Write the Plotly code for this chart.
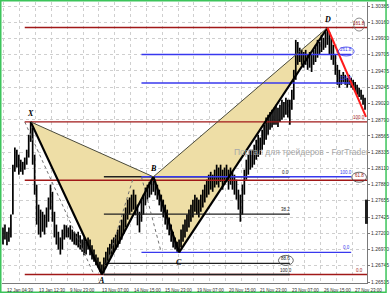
import plotly.graph_objects as go

# ---------------- data ----------------
bar_high = [
    1.2728, 1.2732, 1.2722, 1.2728, 1.2746, 1.2816, 1.2840, 1.2837, 1.2830, 1.2823,
    1.2820, 1.2826, 1.2837, 1.2858, 1.2876, 1.2868, 1.2830, 1.2788, 1.2760, 1.2753,
    1.2750, 1.2746, 1.2756, 1.2770, 1.2788, 1.2778, 1.2750, 1.2732, 1.2722, 1.2714,
    1.2725, 1.2732, 1.2731, 1.2728, 1.2731, 1.2725, 1.2722, 1.2719, 1.2722, 1.2717,
    1.2711, 1.2714, 1.2708, 1.2714, 1.2711, 1.2703, 1.2697, 1.2690, 1.2686, 1.2680,
    1.2676, 1.2686, 1.2694, 1.2700, 1.2705, 1.2711, 1.2714, 1.2718, 1.2725, 1.2731,
    1.2739, 1.2747, 1.2756, 1.2767, 1.2770, 1.2774, 1.2781, 1.2774, 1.2760, 1.2750,
    1.2767, 1.2774, 1.2784, 1.2788, 1.2792, 1.2795, 1.2799, 1.2795, 1.2788, 1.2781,
    1.2774, 1.2767, 1.2760, 1.2753, 1.2742, 1.2732, 1.2722, 1.2714, 1.2708, 1.2711,
    1.2725, 1.2732, 1.2739, 1.2746, 1.2753, 1.2760, 1.2767, 1.2774, 1.2770, 1.2767,
    1.2774, 1.2781, 1.2788, 1.2795, 1.2802, 1.2806, 1.2802, 1.2809, 1.2816, 1.2812,
    1.2816, 1.2809, 1.2812, 1.2816, 1.2809, 1.2812, 1.2806, 1.2802, 1.2795, 1.2781,
    1.2774, 1.2788, 1.2809, 1.2823, 1.2830, 1.2837, 1.2837, 1.2844, 1.2851, 1.2858,
    1.2854, 1.2865, 1.2872, 1.2882, 1.2886, 1.2890, 1.2893, 1.2896, 1.2900, 1.2896,
    1.2900, 1.2907, 1.2904, 1.2910, 1.2907, 1.2907, 1.2921, 1.2949, 1.2991, 1.2988,
    1.2980, 1.2977, 1.2974, 1.2977, 1.2970, 1.2974, 1.2970, 1.2977, 1.2984, 1.2991,
    1.2988, 1.2998, 1.2994, 1.3002, 1.3008, 1.3002, 1.2994, 1.2984, 1.2970, 1.2956,
    1.2949, 1.2942, 1.2946, 1.2942, 1.2938, 1.2942, 1.2938, 1.2935, 1.2932, 1.2928,
    1.2924, 1.2921, 1.2914, 1.2910,
]
bar_low = [
    1.2704, 1.2711, 1.2703, 1.2708, 1.2714, 1.2746, 1.2806, 1.2812, 1.2802, 1.2806,
    1.2802, 1.2809, 1.2816, 1.2826, 1.2848, 1.2816, 1.2774, 1.2732, 1.2718, 1.2714,
    1.2722, 1.2718, 1.2728, 1.2736, 1.2753, 1.2736, 1.2714, 1.2704, 1.2697, 1.2690,
    1.2697, 1.2711, 1.2714, 1.2714, 1.2711, 1.2708, 1.2704, 1.2703, 1.2700, 1.2697,
    1.2694, 1.2689, 1.2690, 1.2697, 1.2689, 1.2683, 1.2680, 1.2675, 1.2672, 1.2666,
    1.2662, 1.2666, 1.2675, 1.2680, 1.2686, 1.2690, 1.2694, 1.2697, 1.2700, 1.2705,
    1.2711, 1.2719, 1.2728, 1.2739, 1.2746, 1.2750, 1.2753, 1.2745, 1.2731, 1.2721,
    1.2736, 1.2746, 1.2759, 1.2767, 1.2770, 1.2774, 1.2778, 1.2773, 1.2767, 1.2759,
    1.2750, 1.2742, 1.2732, 1.2725, 1.2717, 1.2708, 1.2700, 1.2697, 1.2694, 1.2693,
    1.2700, 1.2708, 1.2714, 1.2722, 1.2728, 1.2736, 1.2742, 1.2750, 1.2746, 1.2742,
    1.2750, 1.2756, 1.2763, 1.2770, 1.2774, 1.2781, 1.2778, 1.2784, 1.2788, 1.2784,
    1.2792, 1.2781, 1.2788, 1.2792, 1.2781, 1.2788, 1.2781, 1.2774, 1.2767, 1.2753,
    1.2736, 1.2746, 1.2774, 1.2795, 1.2802, 1.2809, 1.2812, 1.2816, 1.2823, 1.2827,
    1.2830, 1.2837, 1.2844, 1.2851, 1.2858, 1.2865, 1.2868, 1.2872, 1.2872, 1.2869,
    1.2876, 1.2879, 1.2882, 1.2886, 1.2882, 1.2872, 1.2893, 1.2907, 1.2935, 1.2956,
    1.2960, 1.2956, 1.2952, 1.2956, 1.2949, 1.2952, 1.2946, 1.2956, 1.2960, 1.2966,
    1.2970, 1.2974, 1.2977, 1.2980, 1.2984, 1.2970, 1.2963, 1.2956, 1.2942, 1.2928,
    1.2924, 1.2928, 1.2932, 1.2928, 1.2924, 1.2928, 1.2924, 1.2921, 1.2918, 1.2914,
    1.2911, 1.2907, 1.2900, 1.2893,
]

y_tick_values = [1.30385, 1.30160, 1.29930, 1.29705, 1.29475, 1.29245, 1.29020, 1.28790,
                 1.28565, 1.28335, 1.28110, 1.27880, 1.27655, 1.27425, 1.27200, 1.26970,
                 1.26745, 1.26515]
y_tick_labels = ["1.30385", "1.30160", "1.29930", "1.29705", "1.29475", "1.29245", "1.29020",
                 "1.28790", "1.28565", "1.28335", "1.28110", "1.27880", "1.27655", "1.27425",
                 "1.27200", "1.26970", "1.26745", "1.26515"]

x_tick_labels = ["12 Jan 04:30", "13 Jan 12:30", "9 Nov 23:00", "13 Nov 07:00", "14 Nov 15:00",
                 "15 Nov 23:00", "19 Nov 07:00", "20 Nov 15:00", "21 Nov 23:00", "23 Nov 07:00",
                 "26 Nov 15:00", "27 Nov 23:00"]
x_tick_bars = [0.5, 16.5, 32.5, 48.5, 64.5, 80.5, 96.5, 112.5, 128.5, 144.5, 160.5, 176.5]
x_grid_bars = [0.5 + 8 * k for k in range(23)]

pattern_names = ["X", "A", "B", "C", "D"]
pattern_bars = [14, 50, 76, 89, 164]
pattern_prices = [1.2876, 1.2662, 1.2799, 1.2693, 1.3008]
projection_bar = 183.5
projection_price = 1.2883

red_levels = [0.0, 61.8, 100.0, 161.8]
black_levels = [0.0, 38.2, 88.6, 100.0]
blue_levels = [0.0, 100.0, 224.0, 261.8]

watermark = "Портал для трейдеров - ForTrader"

# ---------------- layout constants ----------------
W, H = 391, 293
ML, MR, MT, MB = 2, 20, 2, 10
PW, PH = W - ML - MR, H - MT - MB
x_range = [-0.5, 184.0]
y_range = [1.265012, 1.304411]
px_price = (y_range[1] - y_range[0]) / PH
px_bar = (x_range[1] - x_range[0]) / PW

fig = go.Figure()

X, A, B, C, D = [(pattern_bars[k], pattern_prices[k]) for k in range(5)]
fill_col = "rgb(238,222,166)"

# filled triangles
for tri in [(X, A, B), (B, C, D)]:
    fig.add_trace(go.Scatter(x=[p[0] for p in tri] + [tri[0][0]],
                             y=[p[1] for p in tri] + [tri[0][1]],
                             mode="lines", fill="toself", fillcolor=fill_col,
                             line=dict(width=0, color=fill_col), hoverinfo="skip"))

# price bars
bx, by = [], []
for i, (h, l) in enumerate(zip(bar_high, bar_low)):
    bx += [i, i, None]
    by += [l, h, None]
fig.add_trace(go.Scatter(x=bx, y=by, mode="lines", line=dict(color="#000000", width=1.7),
                         hoverinfo="skip"))

# fibonacci objects
fibs = [
    dict(levels=red_levels, p0=A[1], p100=X[1], start=11, end=184, lab=180.0,
         color="#a01818", dot=((11, X[1]), (46, A[1]))),
    dict(levels=black_levels, p0=B[1], p100=A[1], start=51, end=145, lab=143.0,
         color="#202020", dot=((51, A[1]), (66, B[1]))),
    dict(levels=blue_levels, p0=C[1], p100=B[1], start=70, end=176, lab=173.5,
         color="#3838ee", dot=((70, B[1]), (80, C[1]))),
]
circled = {("#a01818", 161.8): (11, 13, "#707070"), ("#3838ee", 261.8): (16, 9, "#3838ee"),
           ("#a01818", 61.8): (15, 10, "#404040"), ("#202020", 88.6): (15, 10, "#404040")}
annotations = []
shapes = []
for f in fibs:
    (dx0, dy0), (dx1, dy1) = f["dot"]
    fig.add_trace(go.Scatter(x=[dx0, dx1], y=[dy0, dy1], mode="lines",
                             line=dict(color="#707070", width=1, dash="dot"), hoverinfo="skip"))
    for lv in f["levels"]:
        price = f["p0"] + lv / 100.0 * (f["p100"] - f["p0"])
        fig.add_trace(go.Scatter(x=[f["start"], f["end"]], y=[price, price], mode="lines",
                                 line=dict(color=f["color"], width=1.4), hoverinfo="skip"))
        annotations.append(dict(x=f["lab"], y=price, text=f"{lv:.1f}", showarrow=False,
                                xanchor="center", yanchor="bottom", yshift=0,
                                font=dict(size=4.5, color=f["color"], family="Liberation Sans")))
        key = (f["color"], lv)
        if key in circled:
            w, h, c = circled[key]
            cy = price + 3 * px_price
            shapes.append(dict(type="circle", xref="x", yref="y",
                               x0=f["lab"] - w / 2 * px_bar, x1=f["lab"] + w / 2 * px_bar,
                               y0=cy - h / 2 * px_price, y1=cy + h / 2 * px_price,
                               line=dict(color=c, width=0.8)))

# pattern edges
edges = [(X, A, 2.2, "#000000"), (A, B, 2.2, "#000000"), (X, B, 1, "#4a4a3a"),
         (B, C, 2.2, "#000000"), (C, D, 2.2, "#000000"), (B, D, 1, "#4a4a3a")]
for p, q, w, c in edges:
    fig.add_trace(go.Scatter(x=[p[0], q[0]], y=[p[1], q[1]], mode="lines",
                             line=dict(color=c, width=w), hoverinfo="skip"))
fig.add_trace(go.Scatter(x=[D[0], projection_bar], y=[D[1], projection_price], mode="lines",
                         line=dict(color="#ff1a1a", width=2), hoverinfo="skip"))

# pattern letters
letter_shift = {"X": 8, "A": -6, "B": 8, "C": -10, "D": 8}
for name, b, p in zip(pattern_names, pattern_bars, pattern_prices):
    annotations.append(dict(x=b, y=p, text=f"<b><i>{name}</i></b>", showarrow=False,
                            yshift=letter_shift[name], xanchor="center", yanchor="middle",
                            font=dict(size=8, color="#000000", family="Liberation Serif")))

# x labels
for b, t in zip(x_tick_bars, x_tick_labels):
    annotations.append(dict(x=b, y=0, xref="x", yref="paper", text=t, showarrow=False,
                            xanchor="left", yanchor="top", xshift=1, yshift=-2.5,
                            font=dict(size=4.5, color="#303030", family="Liberation Sans")))

# watermark
annotations.append(dict(x=116, y=1.2834, text=watermark, showarrow=False, xanchor="left",
                        yanchor="middle", font=dict(size=8.5, color="#a8a8a8",
                                                    family="Liberation Sans")))

# green frame
shapes.append(dict(type="rect", xref="paper", yref="paper",
                   x0=(0.75 - ML) / PW, x1=(W - 0.75 - ML) / PW,
                   y0=(PH + MT - (H - 0.75)) / PH, y1=(PH + MT - 0.75) / PH,
                   line=dict(color="#3cc45a", width=1.5)))
# small marker on price axis
shapes.append(dict(type="rect", xref="paper", yref="y",
                   x0=(369 - ML) / PW, x1=(372 - ML) / PW, y0=1.2733, y1=1.2767,
                   fillcolor="#202020", line=dict(width=0)))

fig.update_layout(
    width=W, height=H, autosize=False,
    margin=dict(l=ML, r=MR, t=MT, b=MB, pad=0),
    paper_bgcolor="white", plot_bgcolor="white",
    showlegend=False, hovermode=False,
    annotations=annotations, shapes=shapes,
    xaxis=dict(range=x_range, tickvals=x_grid_bars, showticklabels=False,
               showgrid=True, gridcolor="#cfcfcf", griddash="dot", gridwidth=1,
               showline=True, linecolor="#7a7a7a", linewidth=1, zeroline=False, ticks=""),
    yaxis=dict(range=y_range, side="right", tickvals=y_tick_values, ticktext=y_tick_labels,
               showgrid=True, gridcolor="#cfcfcf", griddash="dot", gridwidth=1,
               showline=True, linecolor="#7a7a7a", linewidth=1, zeroline=False,
               ticks="outside", ticklen=2, tickcolor="#7a7a7a",
               tickfont=dict(size=5, color="#303030", family="Liberation Sans")),
)

fig.write_html("out.html", config={"displayModeBar": False})
